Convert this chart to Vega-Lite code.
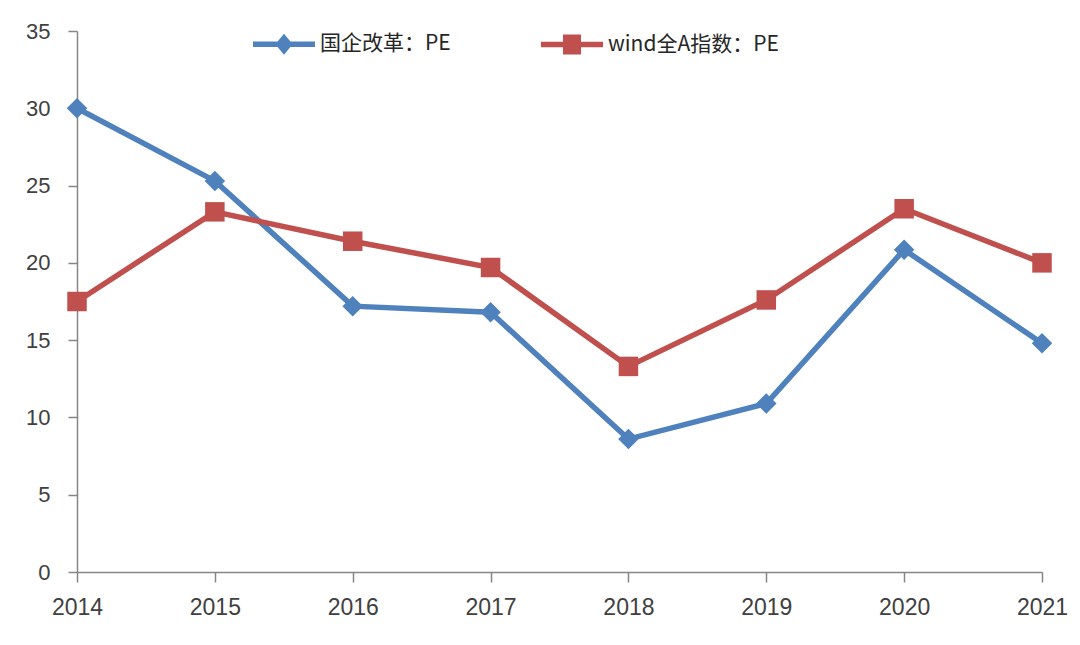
{
  "$schema": "https://vega.github.io/schema/vega-lite/v6.json",
  "width": 965,
  "height": 541,
  "autosize": {"type": "none"},
  "padding": {"left": 77, "top": 31, "right": 38, "bottom": 73},
  "background": "white",
  "config": {
    "view": {"stroke": null},
    "font": "Liberation Sans"
  },
  "data": {
    "values": [
      {"series": "国企改革：PE", "year": "2014", "pe": 30.0},
      {"series": "国企改革：PE", "year": "2015", "pe": 25.3},
      {"series": "国企改革：PE", "year": "2016", "pe": 17.2},
      {"series": "国企改革：PE", "year": "2017", "pe": 16.8},
      {"series": "国企改革：PE", "year": "2018", "pe": 8.6},
      {"series": "国企改革：PE", "year": "2019", "pe": 10.9},
      {"series": "国企改革：PE", "year": "2020", "pe": 20.85},
      {"series": "国企改革：PE", "year": "2021", "pe": 14.8},
      {"series": "wind全A指数：PE", "year": "2014", "pe": 17.5},
      {"series": "wind全A指数：PE", "year": "2015", "pe": 23.3},
      {"series": "wind全A指数：PE", "year": "2016", "pe": 21.4},
      {"series": "wind全A指数：PE", "year": "2017", "pe": 19.7},
      {"series": "wind全A指数：PE", "year": "2018", "pe": 13.3},
      {"series": "wind全A指数：PE", "year": "2019", "pe": 17.6},
      {"series": "wind全A指数：PE", "year": "2020", "pe": 23.5},
      {"series": "wind全A指数：PE", "year": "2021", "pe": 20.0}
    ]
  },
  "encoding": {
    "x": {
      "field": "year",
      "type": "ordinal",
      "scale": {"type": "point", "padding": 0},
      "axis": {
        "title": null,
        "labelAngle": 0,
        "labelFontSize": 23,
        "labelColor": "#404040",
        "labelFont": "Liberation Sans",
        "labelPadding": 14,
        "tickSize": 10,
        "tickColor": "#868686",
        "domainColor": "#868686",
        "domainWidth": 1.5,
        "tickWidth": 1.5
      }
    },
    "y": {
      "field": "pe",
      "type": "quantitative",
      "scale": {"domain": [0, 35], "nice": false},
      "axis": {
        "title": null,
        "values": [0, 5, 10, 15, 20, 25, 30, 35],
        "grid": false,
        "labelFontSize": 22,
        "labelColor": "#404040",
        "labelFont": "Liberation Sans",
        "labelPadding": 18,
        "tickSize": 9,
        "tickColor": "#868686",
        "domainColor": "#868686",
        "domainWidth": 1.5,
        "tickWidth": 1.5
      }
    },
    "color": {
      "field": "series",
      "type": "nominal",
      "scale": {
        "domain": ["国企改革：PE", "wind全A指数：PE"],
        "range": ["#4F81BD", "#C0504D"]
      },
      "legend": {
        "title": null,
        "orient": "none",
        "direction": "horizontal",
        "legendX": 176,
        "legendY": -18,
        "padding": 0,
        "symbolSize": 3844,
        "labelOffset": 5,
        "columnPadding": 90,
        "labelFont": "Noto Sans CJK SC",
        "labelFontSize": 21,
        "labelColor": "#262626",
        "labelLimit": 400,
        "encode": {
          "symbols": {
            "update": {
              "shape": {"signal": "datum.value === '国企改革：PE' ? 'M-1,-0.09H1V0.09H-1Z M0,-0.34L0.28,0L0,0.34L-0.28,0Z' : 'M-1,-0.09H1V0.09H-1Z M-0.29,-0.32H0.29V0.32H-0.29Z'"},
              "size": {"value": 3844},
              "fill": {"signal": "scale('color', datum.value)"},
              "stroke": {"value": "transparent"},
              "strokeWidth": {"value": 0},
              "opacity": {"value": 1}
            }
          }
        }
      }
    }
  },
  "layer": [
    {
      "mark": {"type": "line", "strokeWidth": 5.5}
    },
    {
      "transform": [{"filter": "datum.series === '国企改革：PE'"}],
      "mark": {"type": "point", "filled": true, "opacity": 1, "size": 420, "shape": "diamond"}
    },
    {
      "transform": [{"filter": "datum.series === 'wind全A指数：PE'"}],
      "mark": {"type": "point", "filled": true, "opacity": 1, "size": 380, "shape": "square"}
    }
  ]
}
